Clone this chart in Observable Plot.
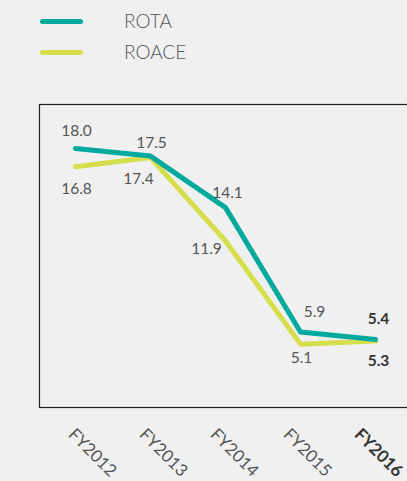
<!DOCTYPE html>
<html>
<head>
<meta charset="utf-8">
<script src="https://cdn.jsdelivr.net/npm/d3@7"></script>
<script src="https://cdn.jsdelivr.net/npm/@observablehq/plot@0.6"></script>
<style>
  html, body { margin: 0; padding: 0; background: #f0f0f0; overflow: hidden; width: 407px; height: 481px; }
  body { font-family: Lato, "Open Sans", sans-serif; }
  #legend { position: relative; height: 80px; }
  .item { position: absolute; left: 40px; height: 20px; }
  .sw { position: absolute; left: 0; top: 7px; width: 43px; height: 5px; border-radius: 3px; }
  .lab { position: absolute; left: 84px; top: -3px; font-size: 19px; font-weight: 300; color: #555; white-space: nowrap; line-height: 24px; }
  #chart { width: 440px; }
  #chart svg { display: block; max-width: none !important; }
</style>
</head>
<body>
<div id="legend"></div>
<div id="chart"></div>
<script>
const years = ["FY2012", "FY2013", "FY2014", "FY2015", "FY2016"];
const rota = [18.0, 17.5, 14.1, 5.9, 5.4];
const roace = [16.8, 17.4, 11.9, 5.1, 5.3];
const seriesNames = ["ROTA", "ROACE"];
const seriesColors = ["#00a99d", "#d5df4c"];
// pixel nudges for value labels (dx, dy)
const rotaNudge = [[1, -17], [1, -13], [2, -15], [14, -20], [3, -21]];
const roaceNudge = [[1, 22], [-12, 21], [-19, 8], [1, 14], [3, 20]];
// pixel nudges for the rotated year labels (dx)
const yearNudge = [-8, -12, -16, -18, -22];

// legend
const legend = document.getElementById("legend");
seriesNames.forEach((n, i) => {
  const it = document.createElement("div");
  it.className = "item";
  it.style.top = (12 + i * 31) + "px";
  it.innerHTML = `<div class="sw" style="background:${seriesColors[i]}"></div><div class="lab">${n}</div>`;
  legend.appendChild(it);
});

const rows = [];
years.forEach((y, i) => {
  rows.push({year: y, series: "ROACE", value: roace[i], idx: i});
  rows.push({year: y, series: "ROTA", value: rota[i], idx: i});
});
const rotaRows = rows.filter(d => d.series === "ROTA");
const roaceRows = rows.filter(d => d.series === "ROACE");
const lastIdx = years.length - 1;

const labelMarks = [];
rotaRows.forEach((d, i) => {
  labelMarks.push(Plot.text([d], {x: "year", y: "value", text: v => v.value.toFixed(1),
    dx: rotaNudge[i][0], dy: rotaNudge[i][1], fontSize: 15.5,
    fill: i === lastIdx ? "#333" : "#555", fontWeight: i === lastIdx ? "bold" : "normal"}));
});
roaceRows.forEach((d, i) => {
  labelMarks.push(Plot.text([d], {x: "year", y: "value", text: v => v.value.toFixed(1),
    dx: roaceNudge[i][0], dy: roaceNudge[i][1], fontSize: 15.5,
    fill: i === lastIdx ? "#333" : "#555", fontWeight: i === lastIdx ? "bold" : "normal"}));
});
const yearMarks = years.map((y, i) => Plot.text([y], {x: d => d, frameAnchor: "bottom",
  dy: 28, dx: yearNudge[i], rotate: 45, textAnchor: "start", fontSize: 17,
  fill: i === lastIdx ? "#333" : "#555", fontWeight: i === lastIdx ? "bold" : "normal"}));

const chart = Plot.plot({
  width: 440,
  height: 401,
  marginTop: 24,
  marginBottom: 74,
  marginLeft: 39,
  marginRight: 0,
  style: {background: "#f0f0f0", fontFamily: "Lato, 'Open Sans', sans-serif", overflow: "visible", maxWidth: "none"},
  x: {type: "point", domain: years, range: [73, 376], padding: 0, axis: null},
  y: {domain: [0, 21], range: [341, 22.5], axis: null},
  marks: [
    Plot.frame({stroke: "#222", strokeWidth: 1.2}),
    Plot.line(roaceRows, {x: "year", y: "value", stroke: seriesColors[1], strokeWidth: 5, strokeLinecap: "round", strokeLinejoin: "round"}),
    Plot.line(rotaRows, {x: "year", y: "value", stroke: seriesColors[0], strokeWidth: 5, strokeLinecap: "round", strokeLinejoin: "round"}),
    ...labelMarks,
    ...yearMarks
  ]
});
document.getElementById("chart").appendChild(chart);
</script>
</body>
</html>
